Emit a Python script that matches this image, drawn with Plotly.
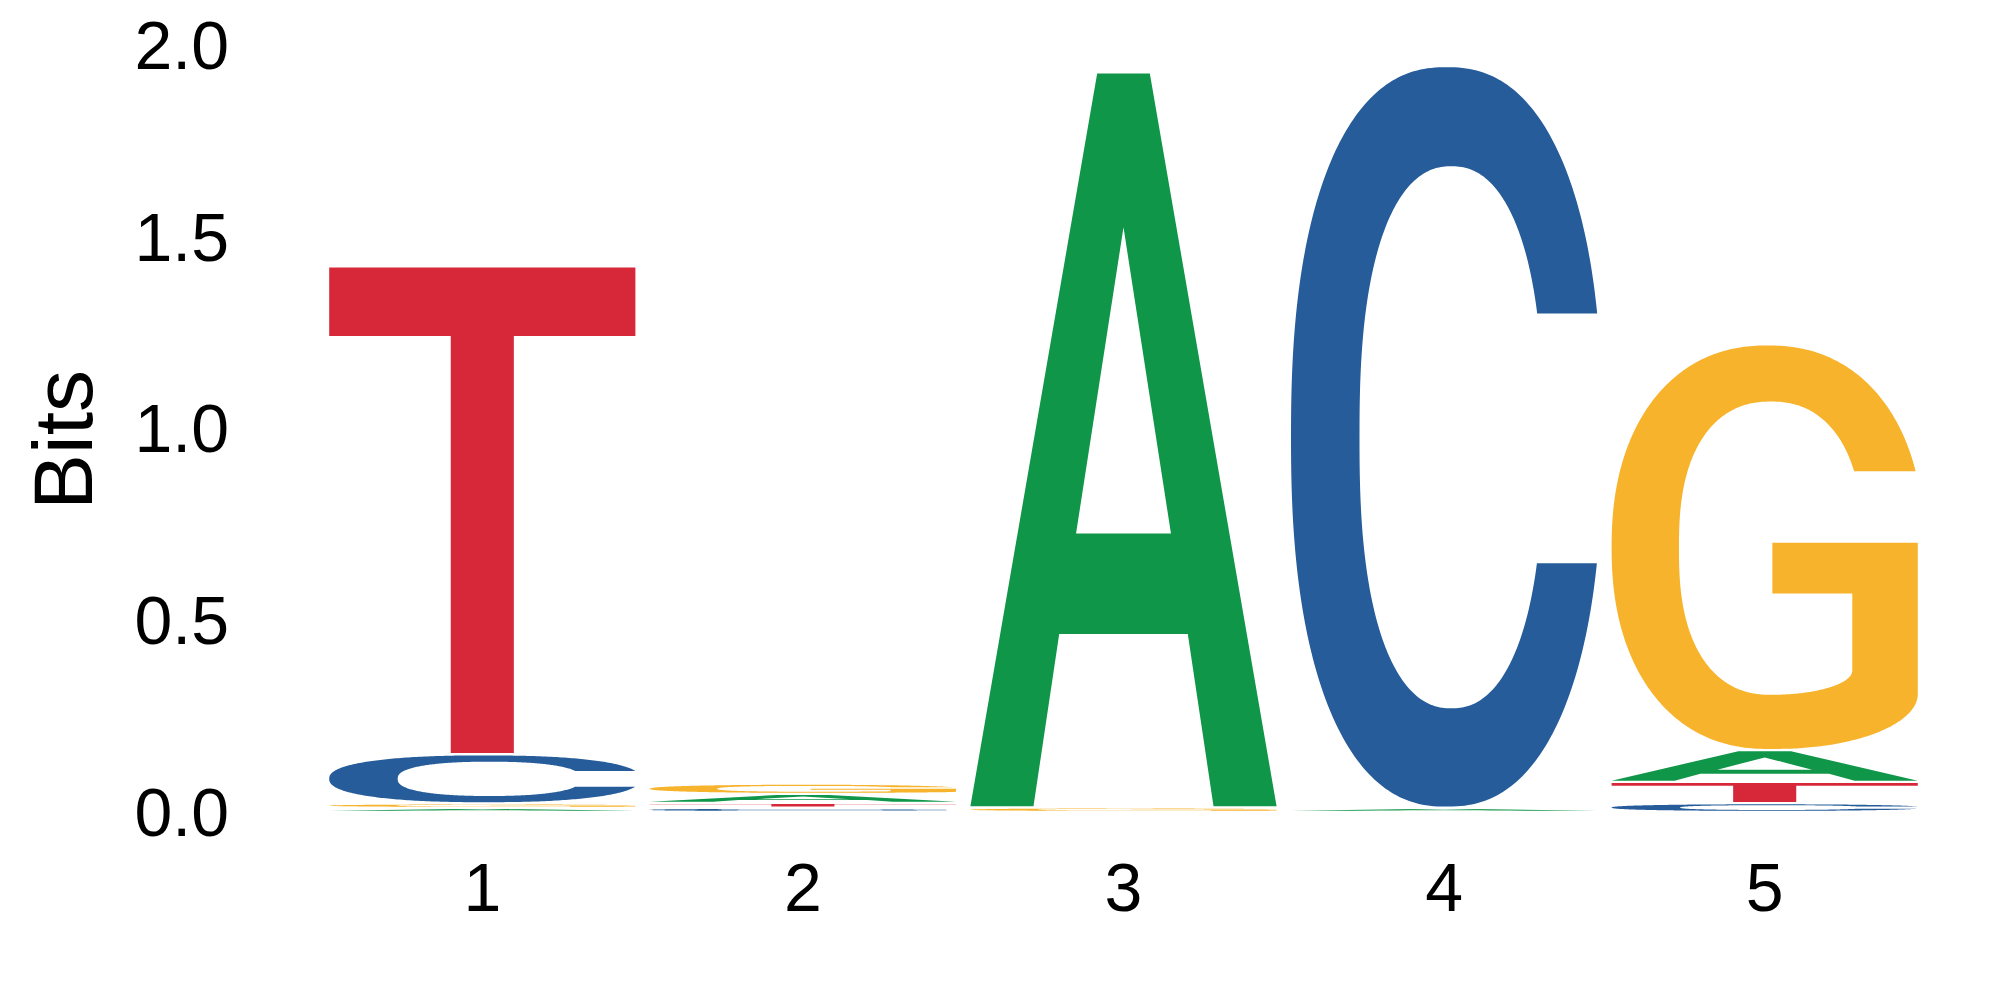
import numpy as np
import plotly.graph_objects as go

# ---------------- data ----------------
positions = [1, 2, 3, 4, 5]
x_tick_labels = ["1", "2", "3", "4", "5"]
letters = ["A", "C", "G", "T"]
# information content (bits) of each base at each position
bits_A = [0.0105, 0.023, 1.917, 0.011, 0.083]
bits_C = [0.128, 0.011, 0.0, 1.934, 0.023]
bits_G = [0.012, 0.027, 0.012, 0.0, 1.058]
bits_T = [1.272, 0.013, 0.0, 0.0, 0.0555]
y_ticks = [0.0, 0.5, 1.0, 1.5, 2.0]
y_tick_labels = ["0.0", "0.5", "1.0", "1.5", "2.0"]
y_title = "Bits"

colors = {"A": "#109648", "C": "#255C99", "G": "#F7B32B", "T": "#D62839"}
values = {"A": bits_A, "C": bits_C, "G": bits_G, "T": bits_T}


# ---------------- glyph outlines (unit box) ----------------
def curve(cx, cy, rx, ry, t, ax=1.0, ay=1.0):
    """Generalised superellipse arc: x ~ |cos t|^ax, y ~ |sin t|^ay."""
    c, s = np.cos(t), np.sin(t)
    x = cx + rx * np.sign(c) * np.abs(c) ** ax
    y = cy + ry * np.sign(s) * np.abs(s) ** ay
    return np.column_stack([x, y])


def t_at(cy, ry, y, ay=1.0):
    v = min(1.0, abs(y - cy) / ry)
    return float(np.arcsin(v ** (1.0 / ay)))


def glyph_T():
    return [np.array([[0, 1], [1, 1], [1, 0.859], [0.603, 0.859], [0.603, 0],
                      [0.397, 0], [0.397, 0.859], [0, 0.859]], dtype=float)]


def glyph_A():
    outer = np.array([[0, 0], [0.206, 0], [0.29, 0.235], [0.71, 0.235], [0.794, 0],
                      [1, 0], [0.586, 1], [0.414, 1]], dtype=float)
    hole = np.array([[0.345, 0.372], [0.655, 0.372], [0.5, 0.79]], dtype=float)
    return [outer, hole]


def glyph_C():
    yt, yb = 0.667, 0.329
    oax, oay = 0.85, 0.85
    iax, iay = 0.884, 0.8
    to1 = t_at(0.5, 0.5, yt, oay)
    to2 = t_at(0.5, 0.5, yb, oay)
    outer = curve(0.5, 0.5, 0.5, 0.5, np.linspace(to1, 2 * np.pi - to2, 300), oax, oay)
    icx, icy, irx, iry = 0.515, 0.4995, 0.295, 0.3666
    ti1 = t_at(icy, iry, yt, iay)
    ti2 = t_at(icy, iry, yb, iay)
    inner = curve(icx, icy, irx, iry, np.linspace(2 * np.pi - ti2, ti1, 300), iax, iay)
    return [np.vstack([outer, inner])]


def glyph_G():
    yt = 0.688
    oa = 0.9
    to1 = t_at(0.5, 0.5, yt, oa)
    p1 = curve(0.51, 0.5, 0.51, 0.5, np.linspace(to1, 1.5 * np.pi, 260), oa, oa)
    p2 = curve(0.54, 0.136, 0.46, 0.136, np.linspace(1.5 * np.pi, 2 * np.pi, 80))
    p3 = np.array([[1.0, 0.511], [0.525, 0.511], [0.525, 0.385],
                   [0.786, 0.385], [0.786, 0.194]])
    p4 = curve(0.52, 0.194, 0.266, 0.06, np.linspace(0, -0.5 * np.pi, 80))
    icx, icy, irx, iry = 0.52, 0.4975, 0.30, 0.3635
    iax, iay = 0.884, 0.8
    ti1 = t_at(icy, iry, yt, iay)
    p5 = curve(icx, icy, irx, iry, np.linspace(1.5 * np.pi, ti1, 260), iax, iay)
    return [np.vstack([p1, p2, p3, p4, p5])]


def normalize(contours):
    allp = np.vstack(contours)
    x0, y0 = allp.min(axis=0)
    x1, y1 = allp.max(axis=0)
    return [np.column_stack([(c[:, 0] - x0) / (x1 - x0), (c[:, 1] - y0) / (y1 - y0)])
            for c in contours]


GLYPHS = {"A": normalize(glyph_A()), "C": normalize(glyph_C()),
          "G": normalize(glyph_G()), "T": normalize(glyph_T())}

LETTER_WIDTH = 0.955
PAD = 0.003  # small vertical gap around each glyph (bits)


def glyph_path(letter, xc, ybot, ytop):
    parts = []
    for c in GLYPHS[letter]:
        xs = xc - LETTER_WIDTH / 2 + c[:, 0] * LETTER_WIDTH
        ys = ybot + c[:, 1] * (ytop - ybot)
        pts = " L ".join(f"{x:.5f},{y:.5f}" for x, y in zip(xs, ys))
        parts.append("M " + pts + " Z")
    return " ".join(parts)


# ---------------- figure ----------------
fig = go.Figure()
tops = []
shapes = []
for i, pos in enumerate(positions):
    col = sorted(letters, key=lambda L: values[L][i])
    base = 0.0
    for L in col:
        h = values[L][i]
        if h > 2 * PAD:
            shapes.append(dict(type="path", xref="x", yref="y",
                               path=glyph_path(L, pos, base + PAD, base + h - PAD),
                               fillcolor=colors[L], line=dict(width=0),
                               fillrule="evenodd", layer="above"))
        base += h
    tops.append(base)

fig.add_trace(go.Scatter(x=positions, y=tops, mode="markers",
                         marker=dict(opacity=0), hoverinfo="skip", showlegend=False))

fig.update_layout(
    width=1984, height=984,
    margin=dict(l=314, r=67, t=37, b=157),
    plot_bgcolor="white", paper_bgcolor="white",
    showlegend=False,
    font=dict(family="Liberation Sans, Arial, Helvetica, sans-serif", color="black"),
    shapes=shapes,
)
fig.update_xaxes(range=[0.5, 5.5], tickvals=positions, ticktext=x_tick_labels,
                 showgrid=False, zeroline=False, showline=False, ticks="",
                 tickfont=dict(size=68, color="black"), ticklabelstandoff=7,
                 ticklabeloverflow="allow",
                 automargin=False, fixedrange=True)
fig.update_yaxes(range=[-0.06, 2.0], tickvals=y_ticks, ticktext=y_tick_labels,
                 showgrid=False, zeroline=False, showline=False, ticks="",
                 tickfont=dict(size=68, color="black"), ticklabelstandoff=92,
                 ticklabeloverflow="allow",
                 title=dict(text=y_title, font=dict(size=84, color="black"), standoff=14),
                 automargin=False, fixedrange=True)

fig.write_html("out.html")
